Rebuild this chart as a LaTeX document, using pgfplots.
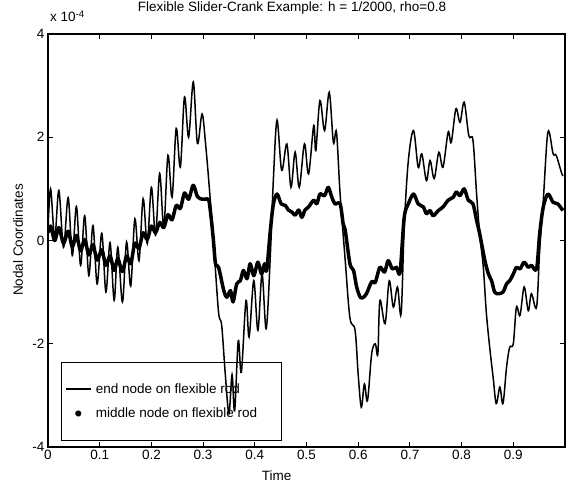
\documentclass[border=0pt]{standalone}
\usepackage{pgfplots}
\pgfplotsset{compat=1.18}
\usepackage{fontspec}
\setmainfont{Liberation Sans}
\newcommand{\ff}{\fontsize{13.5}{15}\selectfont}
\begin{document}
\begin{tikzpicture}
\path[use as bounding box] (-48pt,-40pt) rectangle (520pt,447pt);
\begin{axis}[
  scale only axis,
  width=517pt, height=413pt,
  xmin=0, xmax=1, ymin=-4, ymax=4,
  xtick={0,0.1,0.2,0.3,0.4,0.5,0.6,0.7,0.8,0.9},
  xticklabels={0,0.1,0.2,0.3,0.4,0.5,0.6,0.7,0.8,0.9},
  ytick={-4,-2,0,2,4},
  yticklabels={-4,-2,0,2,4},
  tick align=inside,
  major tick length=5pt,
  axis line style={line width=1.1pt},
  every tick/.style={black, line width=0.9pt},
  tick label style={font=\ff},
  /pgf/number format/assume math mode=true,
  title={Flexible Slider-Crank Example: h = 1/2000, rho=0.8},
  title style={font=\ff, at={(axis description cs:0.472,1.041)}, anchor=base},
  xlabel={Time},
  xlabel style={font=\ff, at={(axis description cs:0.442,-0.080)}, anchor=base},
  ylabel={Nodal Coordinates},
  ylabel style={font=\ff, at={(axis description cs:-0.058,0.501)}, anchor=center, rotate=0},
  legend style={font=\ff, at={(axis description cs:0.0246,0.0145)}, anchor=south west,
    draw=black, line width=0.9pt, fill=none, inner xsep=4pt, inner ysep=19.5pt, row sep=9pt},
  legend cell align=left,
]
\addplot[black, line width=1.5pt, smooth, tension=0.55,
  legend image code/.code={\draw[black, line width=1.3pt] (0pt,0pt) -- (25pt,0pt); \path[draw=none] (0pt,0pt) -- (28pt,0pt);}]
coordinates {
(0.000,0.20)(0.005,1.00)(0.013,0.05)(0.021,0.97)(0.030,-0.13)(0.039,0.83)(0.047,-0.29)
(0.055,0.66)(0.063,-0.48)(0.071,0.48)(0.079,-0.68)(0.087,0.29)(0.095,-0.84)(0.104,0.14)
(0.112,-1.00)(0.120,-0.04)(0.128,-1.16)(0.135,-0.13)(0.144,-1.19)(0.152,-0.03)(0.160,-0.88)
(0.168,0.42)(0.176,-0.39)(0.184,0.81)(0.192,-0.06)(0.200,1.03)(0.208,0.10)(0.216,1.30)
(0.224,0.26)(0.232,1.65)(0.240,0.84)(0.248,2.17)(0.256,1.42)(0.264,2.78)(0.272,2.00)
(0.281,3.07)(0.289,1.88)(0.298,2.45)(0.305,1.85)(0.313,0.90)(0.322,-0.30)(0.330,-1.40)
(0.336,-1.65)(0.343,-2.60)(0.350,-3.35)(0.356,-2.60)(0.361,-3.30)(0.368,-1.94)(0.374,-2.55)
(0.383,-1.16)(0.389,-1.87)(0.398,-0.78)(0.406,-1.74)(0.414,-0.65)(0.422,-1.71)(0.430,-0.30)
(0.436,1.20)(0.443,2.33)(0.452,1.36)(0.462,1.87)(0.470,1.03)(0.478,1.71)(0.486,1.03)
(0.496,1.87)(0.504,1.29)(0.514,2.23)(0.518,1.74)(0.526,2.71)(0.535,2.13)(0.544,2.87)
(0.552,1.90)(0.558,2.10)(0.565,0.90)(0.575,-0.40)(0.584,-1.50)(0.594,-1.74)(0.600,-2.60)
(0.606,-3.23)(0.612,-2.78)(0.618,-3.10)(0.626,-2.20)(0.633,-2.00)(0.638,-2.20)(0.642,-1.16)
(0.652,-1.61)(0.660,-0.78)(0.668,-1.29)(0.676,-0.90)(0.683,-1.42)(0.689,0.26)(0.697,1.55)
(0.707,2.13)(0.716,1.42)(0.723,1.68)(0.732,1.16)(0.739,1.55)(0.747,1.20)(0.756,1.71)
(0.764,1.42)(0.774,2.10)(0.780,1.90)(0.789,2.55)(0.797,2.29)(0.805,2.68)(0.814,2.03)
(0.822,1.94)(0.829,0.90)(0.835,0.13)(0.842,-0.52)(0.848,-1.42)(0.855,-2.13)(0.861,-2.65)
(0.867,-3.16)(0.874,-2.84)(0.880,-3.16)(0.887,-2.45)(0.893,-2.07)(0.900,-2.00)(0.906,-1.29)
(0.913,-1.45)(0.921,-0.90)(0.929,-1.36)(0.935,-1.03)(0.945,-1.29)(0.951,-0.19)(0.958,0.78)
(0.967,2.10)(0.977,1.68)(0.983,1.65)(0.993,1.32)(0.996,1.25)
};
\addlegendentry{end node on flexible rod}
\addplot[black, line width=3.5pt, line join=round, smooth, tension=0.5,
  legend image code/.code={\fill[black] (12.5pt,0pt) circle (1.6pt); \path[draw=none] (0pt,0pt) -- (28pt,0pt);}]
coordinates {
(0.000,0.15)(0.005,0.28)(0.013,0.00)(0.021,0.25)(0.030,-0.05)(0.039,0.18)(0.047,-0.12)
(0.055,0.10)(0.063,-0.20)(0.071,0.02)(0.079,-0.28)(0.087,-0.08)(0.095,-0.38)(0.104,-0.18)
(0.112,-0.48)(0.120,-0.30)(0.128,-0.58)(0.135,-0.35)(0.144,-0.60)(0.152,-0.30)(0.160,-0.45)
(0.168,-0.05)(0.176,-0.15)(0.184,0.15)(0.192,0.02)(0.200,0.28)(0.208,0.15)(0.216,0.35)
(0.224,0.25)(0.232,0.50)(0.240,0.40)(0.248,0.68)(0.256,0.62)(0.264,0.92)(0.272,0.80)
(0.281,1.07)(0.289,0.85)(0.298,0.80)(0.305,0.80)(0.311,0.78)(0.316,0.40)(0.320,0.00)
(0.324,-0.45)(0.330,-0.52)(0.340,-0.97)(0.346,-1.10)(0.353,-0.97)(0.358,-1.19)(0.365,-0.84)
(0.372,-0.78)(0.378,-0.58)(0.385,-0.74)(0.391,-0.45)(0.398,-0.68)(0.406,-0.42)(0.413,-0.65)
(0.419,-0.45)(0.423,-0.58)(0.430,0.19)(0.436,0.71)(0.443,0.90)(0.451,0.71)(0.459,0.68)
(0.465,0.59)(0.472,0.55)(0.478,0.49)(0.485,0.59)(0.491,0.45)(0.497,0.59)(0.504,0.65)
(0.514,0.78)(0.520,0.71)(0.526,0.90)(0.535,0.87)(0.542,1.03)(0.549,0.84)(0.555,0.71)
(0.565,0.71)(0.571,0.32)(0.575,0.19)(0.584,-0.45)(0.591,-0.58)(0.597,-0.90)(0.604,-1.10)
(0.610,-1.10)(0.616,-1.03)(0.626,-0.80)(0.633,-0.81)(0.642,-0.52)(0.651,-0.61)(0.658,-0.39)
(0.666,-0.55)(0.674,-0.52)(0.681,-0.61)(0.689,0.45)(0.697,0.71)(0.707,0.90)(0.716,0.71)
(0.726,0.65)(0.732,0.52)(0.739,0.58)(0.745,0.48)(0.755,0.58)(0.764,0.65)(0.774,0.78)
(0.784,0.84)(0.790,0.94)(0.797,0.87)(0.805,1.00)(0.813,0.78)(0.822,0.71)(0.829,0.39)
(0.835,0.13)(0.845,-0.39)(0.852,-0.65)(0.858,-0.78)(0.864,-1.00)(0.871,-1.03)(0.880,-1.00)
(0.887,-0.84)(0.893,-0.78)(0.900,-0.65)(0.906,-0.52)(0.913,-0.55)(0.921,-0.42)(0.929,-0.52)
(0.935,-0.48)(0.945,-0.55)(0.951,0.13)(0.958,0.65)(0.967,0.90)(0.977,0.74)(0.986,0.71)
(0.996,0.58)
};
\addlegendentry{\makebox[180pt][l]{middle node on flexible rod}}
\end{axis}
\node[anchor=base west, font=\ff, inner sep=0pt] at (2pt,425pt) {x 10\raisebox{0.7ex}{\fontsize{9.5}{10}\selectfont -4}};
\end{tikzpicture}
\end{document}
